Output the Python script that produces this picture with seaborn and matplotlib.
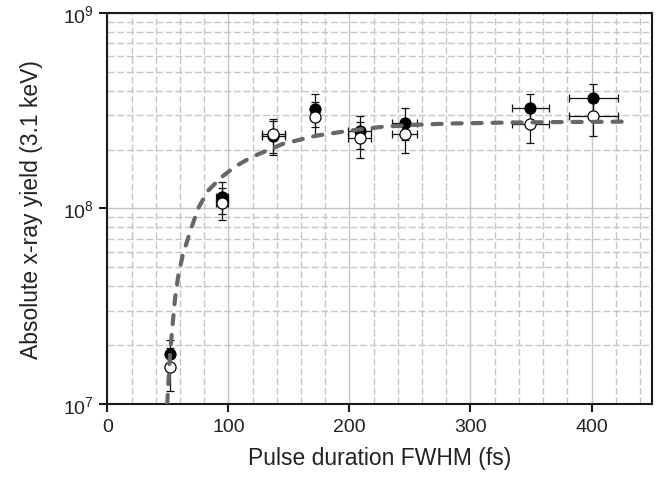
import matplotlib
matplotlib.use("Agg")
import numpy as np
import pandas as pd
import seaborn as sns
import matplotlib.pyplot as plt
from matplotlib.ticker import MultipleLocator, LogLocator, NullFormatter

# ---------------- data ----------------
duration = [51.7, 94.5, 137.0, 171.5, 208.5, 245.5, 349.5, 401.5]
duration_err = [2.0, 4.8, 9.6, 2.0, 9.6, 10.0, 15.0, 20.0]

yield_filled = [1.80e7, 1.15e8, 2.34e8, 3.23e8, 2.50e8, 2.74e8, 3.25e8, 3.66e8]
filled_err = [0.32e7, 0.21e8, 0.47e8, 0.62e8, 0.48e8, 0.51e8, 0.62e8, 0.68e8]

yield_open = [1.55e7, 1.07e8, 2.40e8, 2.93e8, 2.29e8, 2.40e8, 2.71e8, 2.96e8]
open_err = [0.38e7, 0.20e8, 0.47e8, 0.57e8, 0.48e8, 0.48e8, 0.55e8, 0.60e8]

fit_x = [49.5, 51.7, 53.6, 55.9, 58.6, 62.2, 68.2, 75.0, 83.0, 94.0, 105.0,
         119.0, 145.0, 173.0, 200.0, 228.0, 255.0, 283.0, 330.0, 380.0, 426.0]
fit_y = [1.0e7, 1.77e7, 2.42e7, 3.44e7, 4.53e7, 5.74e7, 7.55e7, 1.0e8, 1.23e8,
         1.44e8, 1.63e8, 1.83e8, 2.14e8, 2.36e8, 2.50e8, 2.62e8, 2.68e8,
         2.72e8, 2.75e8, 2.77e8, 2.78e8]

x_ticks = [0, 100, 200, 300, 400]
x_label = "Pulse duration FWHM (fs)"
y_label = "Absolute x-ray yield (3.1 keV)"

# ---------------- style ----------------
sns.set_theme(style="white")
plt.rcParams['font.family'] = ['Liberation Sans', 'DejaVu Sans']
plt.rcParams['mathtext.fontset'] = 'custom'
plt.rcParams['mathtext.rm'] = 'Liberation Sans'
plt.rcParams['mathtext.it'] = 'Liberation Sans:italic'
plt.rcParams['mathtext.bf'] = 'Liberation Sans:bold'

fig = plt.figure(figsize=(6.6, 4.89), dpi=100)
ax = fig.add_axes([0.1626, 0.1718, 0.8254, 0.7996])
ax.set_yscale('log')

df_f = pd.DataFrame({"x": duration, "y": yield_filled})
df_o = pd.DataFrame({"x": duration, "y": yield_open})
df_fit = pd.DataFrame({"x": fit_x, "y": fit_y})

# error bars
ax.errorbar(duration, yield_filled, yerr=filled_err, xerr=duration_err,
            fmt='none', ecolor='#111111', elinewidth=0.9, capsize=3.2,
            capthick=0.9, zorder=2)
ax.errorbar(duration, yield_open, yerr=open_err, xerr=duration_err,
            fmt='none', ecolor='#111111', elinewidth=0.9, capsize=3.2,
            capthick=0.9, zorder=2)

sns.scatterplot(data=df_f, x="x", y="y", ax=ax, color='black', s=64,
                edgecolor='black', linewidth=0.8, zorder=3)
sns.scatterplot(data=df_o, x="x", y="y", ax=ax, color='white', s=64,
                edgecolor='black', linewidth=0.9, zorder=4)

sns.lineplot(data=df_fit, x="x", y="y", ax=ax, color='#676767', lw=3.0,
             linestyle=(0, (2.2, 2.6)), dash_capstyle='round',
             errorbar=None, sort=False, zorder=5)

# axes
ax.set_xlim(0, 450)
ax.set_ylim(1e7, 1e9)
ax.set_xticks(x_ticks)
ax.xaxis.set_minor_locator(MultipleLocator(20))
ax.yaxis.set_major_locator(LogLocator(base=10))
ax.yaxis.set_minor_locator(LogLocator(base=10, subs=np.arange(2, 10)))
ax.yaxis.set_minor_formatter(NullFormatter())

ax.grid(which='major', color='#c6c6c6', lw=1.0, ls='-', zorder=0)
ax.grid(which='minor', color='#c6c6c6', lw=1.0, ls=(0, (5, 2)), zorder=0)
ax.set_axisbelow(True)

for sp in ax.spines.values():
    sp.set_color('#1a1a1a')
    sp.set_linewidth(1.5)

ax.tick_params(which='major', direction='out', length=6, width=1.5,
               color='#1a1a1a', labelsize=14, labelcolor='#222222',
               bottom=True, left=True, top=False, right=False, pad=4)
ax.tick_params(which='minor', length=0)

ax.set_xlabel(x_label, fontsize=16.5, color='#222222', labelpad=8)
ax.set_ylabel(y_label, fontsize=16.5, color='#222222', labelpad=14)

fig.savefig("out.png", dpi=100)
